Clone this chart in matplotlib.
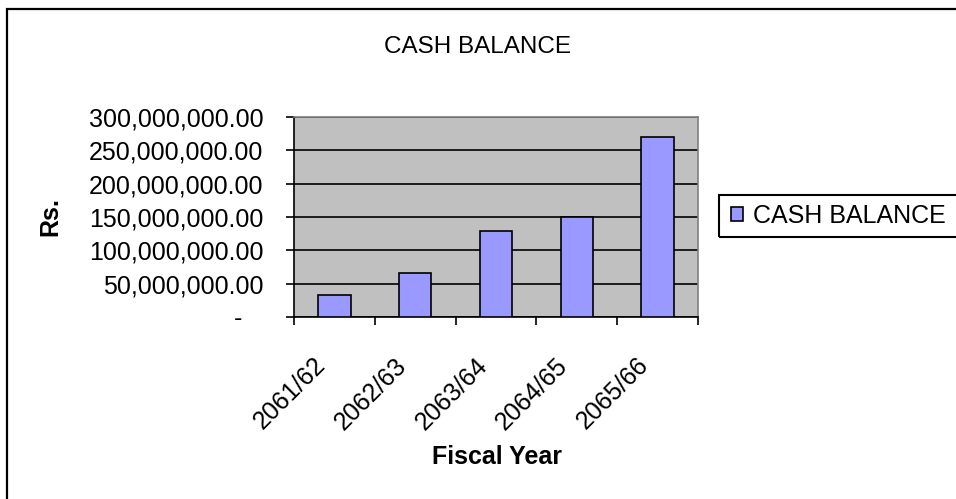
import matplotlib
matplotlib.use("Agg")
import matplotlib.pyplot as plt
from matplotlib.patches import Rectangle
from matplotlib.ticker import FuncFormatter, FixedLocator
from matplotlib.transforms import ScaledTranslation
import numpy as np

plt.rcParams['font.family'] = ['Liberation Sans', 'DejaVu Sans']

# cash balance per fiscal year (Rs.)
years = ['2061/62', '2062/63', '2063/64', '2064/65', '2065/66']
cash_balance = [33_000_000, 66_500_000, 129_000_000, 150_000_000, 270_500_000]

W, H = 956, 499
fig = plt.figure(figsize=(W / 100, H / 100), dpi=100)

# chart area frame (runs off the right and bottom edges)
fig.patches.append(Rectangle((7 / W, -0.05), 1.2, (H - 9) / H + 0.05,
                             transform=fig.transFigure, fill=False,
                             edgecolor='black', linewidth=1.6))

ax = fig.add_axes([294 / W, (H - 317) / H, (698 - 294) / W, 200 / H])
ax.set_facecolor('#C0C0C0')

x = np.arange(len(years)) + 0.5
bars = ax.bar(x, cash_balance, width=0.4, color='#9999FF',
              edgecolor='black', linewidth=1.2, label='CASH BALANCE', zorder=3)

ax.set_xlim(0, len(years))
ax.set_ylim(0, 300_000_000)
ax.set_yticks(np.arange(0, 300_000_001, 50_000_000))
ax.yaxis.grid(True, color='black', linewidth=1.2, zorder=1)
ax.set_axisbelow(True)


def money(v, pos):
    if v == 0:
        return '-   '
    return f'{v:,.2f}'


ax.yaxis.set_major_formatter(FuncFormatter(money))

# ticks at category boundaries, labels at category centres
ax.xaxis.set_major_locator(FixedLocator(np.arange(len(years) + 1)))
ax.xaxis.set_major_formatter(FuncFormatter(lambda v, p: ''))
ax.xaxis.set_minor_locator(FixedLocator(x))
ax.set_xticklabels(years, minor=True, rotation=45, ha='right',
                   va='top', rotation_mode='anchor', fontsize=18)
ax.tick_params(axis='x', which='minor', length=0, pad=26)
ax.tick_params(axis='x', which='major', length=6, width=1.2, direction='out')
ax.tick_params(axis='y', length=6, width=1.2, direction='out', labelsize=18, pad=16)

shift = ScaledTranslation(-21 / 100, 0, fig.dpi_scale_trans)
for lbl in ax.get_xticklabels(minor=True):
    lbl.set_transform(lbl.get_transform() + shift)

for side in ('left', 'bottom'):
    ax.spines[side].set_color('black')
    ax.spines[side].set_linewidth(1.2)
for side in ('top', 'right'):
    ax.spines[side].set_color('#808080')
    ax.spines[side].set_linewidth(1.2)

fig.text(478 / W, 1 - 47 / H, 'CASH BALANCE', ha='center', va='center', fontsize=17.5)
fig.text(497 / W, 1 - 457 / H, 'Fiscal Year', ha='center', va='center',
         fontsize=18, fontweight='bold')
fig.text(50 / W, 1 - 217 / H, 'Rs.', ha='center', va='center', rotation=90,
         fontsize=18, fontweight='bold')

# legend box, open on the right side of the image
fig.patches.append(Rectangle((719 / W, (H - 237) / H), 0.5, 42 / H,
                             transform=fig.transFigure, fill=False,
                             edgecolor='black', linewidth=1.5))
fig.legend(handles=[bars], loc='center left',
           bbox_to_anchor=(731 / W, 1 - 216 / H), borderaxespad=0,
           fontsize=18, frameon=False, handlelength=0.48, handleheight=0.48,
           handletextpad=0.4, borderpad=0)

fig.savefig('out.png', dpi=100)
